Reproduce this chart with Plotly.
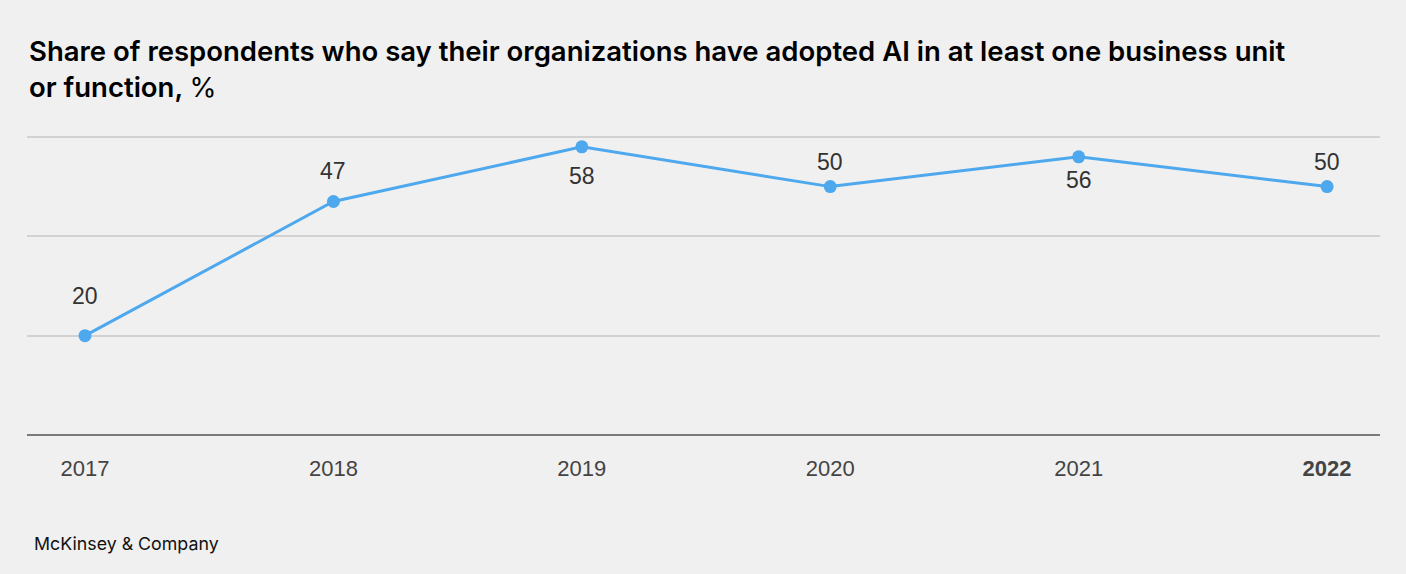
import plotly.graph_objects as go

# Data
years = [2017, 2018, 2019, 2020, 2021, 2022]
share = [20, 47, 58, 50, 56, 50]
year_labels = ["2017", "2018", "2019", "2020", "2021", "<b>2022</b>"]

# label above (+) or below (-) the point, in px
label_shift = [40, 31, -29, 25, -23, 25]

title_text = ("<span style='font-weight:600'>Share of respondents who say their organizations have adopted AI in at least one business unit"
              "<br>or function, </span>%")

BG = "#f0f0f0"
BLUE = "#4ea8ee"
NUM_FONT = "Liberation Sans"

fig = go.Figure()
fig.add_trace(go.Scatter(
    x=years,
    y=share,
    mode="lines+markers",
    line=dict(color=BLUE, width=3),
    marker=dict(color=BLUE, size=13),
    cliponaxis=False,
    hoverinfo="skip",
))

# data labels
for yr, v, dy in zip(years, share, label_shift):
    fig.add_annotation(
        x=yr, y=v, text=str(v), showarrow=False, yshift=dy,
        font=dict(family=NUM_FONT, size=23, color="#333333"),
    )

fig.update_layout(
    width=1406,
    height=574,
    paper_bgcolor=BG,
    plot_bgcolor=BG,
    showlegend=False,
    margin=dict(l=27, r=26, t=127, b=139),
    font=dict(family="Inter", color="#333333"),
)

fig.add_annotation(
    text=title_text, xref="paper", yref="paper", x=0, y=1,
    xanchor="left", yanchor="bottom", yshift=21, align="left", showarrow=False,
    font=dict(family="Inter", size=27.5, color="#000000"),
)
fig.add_annotation(
    text="McKinsey & Company", xref="paper", yref="paper", x=0, y=0,
    xanchor="left", yanchor="top", xshift=5, yshift=-96, showarrow=False,
    font=dict(family="Inter", size=17.8, color="#111111"),
)

fig.update_xaxes(
    range=[2017 - 0.2335, 2022 + 0.213],
    tickvals=years,
    ticktext=year_labels,
    showgrid=False,
    zeroline=False,
    showline=False,
    ticks="",
    ticklabelstandoff=18,
    tickfont=dict(family=NUM_FONT, size=22, color="#444444"),
)
fig.update_yaxes(
    range=[0, 62],
    tickvals=[0, 20, 40, 60],
    showticklabels=False,
    showgrid=True,
    gridcolor="#d2d2d2",
    gridwidth=1.5,
    zeroline=True,
    zerolinecolor="#7a7a7a",
    zerolinewidth=2,
)

fig.write_html("out.html", config={"displayModeBar": False},
               post_script="document.body.style.margin='0';")
